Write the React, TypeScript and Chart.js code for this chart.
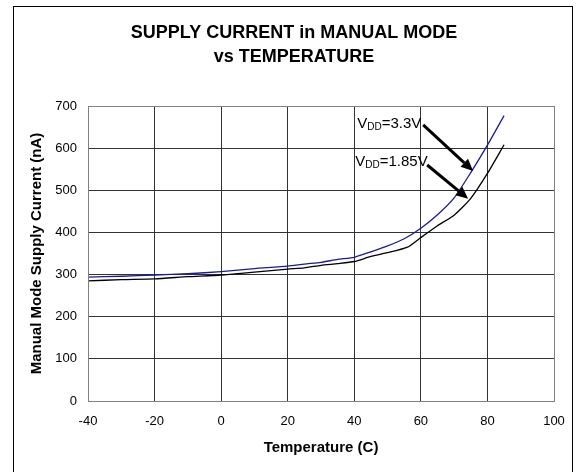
import React, { useEffect, useRef } from "react";
import { Chart, registerables } from "chart.js";

Chart.register(...registerables);

// ---- data ----
const temps33 = [-40, -30, -20, -10, 0, 10, 20, 25, 30, 35, 40, 45, 50, 55, 60, 65, 70, 75, 80, 85];
const vdd33 = [294, 296, 299, 302, 307, 314, 320, 325, 329, 336, 341, 354, 368, 385, 410, 442, 482, 542, 607, 677];
const temps185 = [-40, -30, -20, -10, 0, 10, 20, 25, 30, 35, 40, 45, 50, 56, 60, 65, 70, 75, 80, 85];
const vdd185 = [285, 288, 290, 295, 299, 306, 313, 316, 322, 326, 331, 343, 352, 365, 388, 416, 441, 481, 540, 608];

const titleLines = ["SUPPLY CURRENT in MANUAL MODE", "vs TEMPERATURE"];
const xTitle = "Temperature (C)";
const yTitle = "Manual Mode Supply Current (nA)";

// annotation labels (data coords)
const labelMain = ["V", "V"];
const labelSub = ["DD", "DD"];
const labelRest = ["=3.3V", "=1.85V"];
const labelX = [40.9, 40.3];
const labelY = [648, 557];

// arrows (data coords)
const arrowFromX = [60.7, 61.9];
const arrowFromY = [655, 560];
const arrowToX = [75.7, 74.2];
const arrowToY = [546, 480];

const FONT = '"Liberation Sans", Arial, sans-serif';

const annotPlugin = {
  id: "annot",
  afterDraw(chart: any) {
    const ctx = chart.ctx as CanvasRenderingContext2D;
    const xs = chart.scales.x;
    const ys = chart.scales.y;
    const a = chart.chartArea;
    ctx.save();
    // plot frame
    ctx.strokeStyle = "#808080";
    ctx.lineWidth = 1;
    ctx.strokeRect(
      Math.round(a.left) + 0.5,
      Math.round(a.top) + 0.5,
      Math.round(a.right - a.left),
      Math.round(a.bottom - a.top)
    );
    // title
    ctx.fillStyle = "#000";
    ctx.textAlign = "center";
    ctx.textBaseline = "alphabetic";
    ctx.font = `bold 18px ${FONT}`;
    ctx.fillText(titleLines[0], 294, 38);
    ctx.fillText(titleLines[1], 294, 62);

    // labels
    ctx.textAlign = "left";
    for (let i = 0; i < labelMain.length; i++) {
      let px = xs.getPixelForValue(labelX[i]);
      const py = ys.getPixelForValue(labelY[i]);
      ctx.font = `15px ${FONT}`;
      ctx.fillText(labelMain[i], px, py);
      px += ctx.measureText(labelMain[i]).width;
      ctx.font = `10px ${FONT}`;
      ctx.fillText(labelSub[i], px, py + 2);
      px += ctx.measureText(labelSub[i]).width;
      ctx.font = `15px ${FONT}`;
      ctx.fillText(labelRest[i], px, py);
    }

    // arrows
    for (let i = 0; i < arrowFromX.length; i++) {
      const x1 = xs.getPixelForValue(arrowFromX[i]);
      const y1 = ys.getPixelForValue(arrowFromY[i]);
      const x2 = xs.getPixelForValue(arrowToX[i]);
      const y2 = ys.getPixelForValue(arrowToY[i]);
      const ang = Math.atan2(y2 - y1, x2 - x1);
      const hl = 12;
      const hw = 5.5;
      const bx = x2 - hl * Math.cos(ang);
      const by = y2 - hl * Math.sin(ang);
      ctx.strokeStyle = "#000";
      ctx.lineWidth = 3;
      ctx.beginPath();
      ctx.moveTo(x1, y1);
      ctx.lineTo(bx, by);
      ctx.stroke();
      ctx.fillStyle = "#000";
      ctx.beginPath();
      ctx.moveTo(x2, y2);
      ctx.lineTo(bx + hw * Math.sin(ang), by - hw * Math.cos(ang));
      ctx.lineTo(bx - hw * Math.sin(ang), by + hw * Math.cos(ang));
      ctx.closePath();
      ctx.fill();
    }
    ctx.restore();
  },
};

export default function App() {
  const ref = useRef<HTMLCanvasElement | null>(null);
  useEffect(() => {
    if (!ref.current) return;
    const chart = new Chart(ref.current, {
      type: "line",
      data: {
        datasets: [
          {
            label: "VDD=3.3V",
            data: temps33.map((t, i) => ({ x: t, y: vdd33[i] })),
            borderColor: "#1a1a9a",
            borderWidth: 1.3,
            pointRadius: 0,
            tension: 0.2,
            fill: false,
          },
          {
            label: "VDD=1.85V",
            data: temps185.map((t, i) => ({ x: t, y: vdd185[i] })),
            borderColor: "#000000",
            borderWidth: 1.3,
            pointRadius: 0,
            tension: 0.2,
            fill: false,
          },
        ],
      },
      options: {
        responsive: false,
        animation: false,
        devicePixelRatio: 1,
        layout: { padding: { left: 0, top: 106, right: 24, bottom: 0 } },
        plugins: { legend: { display: false }, tooltip: { enabled: false }, title: { display: false } },
        scales: {
          x: {
            type: "linear",
            min: -40,
            max: 100,
            afterFit: (s: any) => {
              s.height = 71;
            },
            ticks: {
              stepSize: 20,
              autoSkip: false,
              maxRotation: 0,
              padding: 13,
              color: "#000",
              font: { family: FONT, size: 13 },
            },
            grid: { color: "#333333", lineWidth: 1, drawTicks: false },
            border: { display: false },
            title: {
              display: true,
              text: xTitle,
              color: "#000",
              font: { family: FONT, size: 15, weight: "bold" },
              padding: { top: 0, bottom: 15 },
            },
          },
          y: {
            min: 0,
            max: 700,
            afterFit: (s: any) => {
              s.width = 88;
            },
            ticks: {
              stepSize: 100,
              autoSkip: false,
              padding: 11,
              color: "#000",
              font: { family: FONT, size: 13 },
            },
            grid: { color: "#333333", lineWidth: 1, drawTicks: false },
            border: { display: false },
            title: {
              display: true,
              text: yTitle,
              color: "#000",
              font: { family: FONT, size: 15, weight: "bold" },
              padding: { top: 28, bottom: 0 },
            },
          },
        },
      },
      plugins: [annotPlugin],
    });
    return () => chart.destroy();
  }, []);

  return (
    <div style={{ position: "absolute", left: 0, top: 0, width: 578, height: 472, overflow: "hidden", background: "#fff" }}>
      <div
        style={{
          position: "absolute",
          left: 13,
          top: 6,
          width: 560,
          height: 480,
          border: "1px solid #000",
          boxSizing: "border-box",
        }}
      />
      <canvas ref={ref} width={578} height={472} style={{ position: "absolute", left: 0, top: 0, width: 578, height: 472 }} />
    </div>
  );
}
